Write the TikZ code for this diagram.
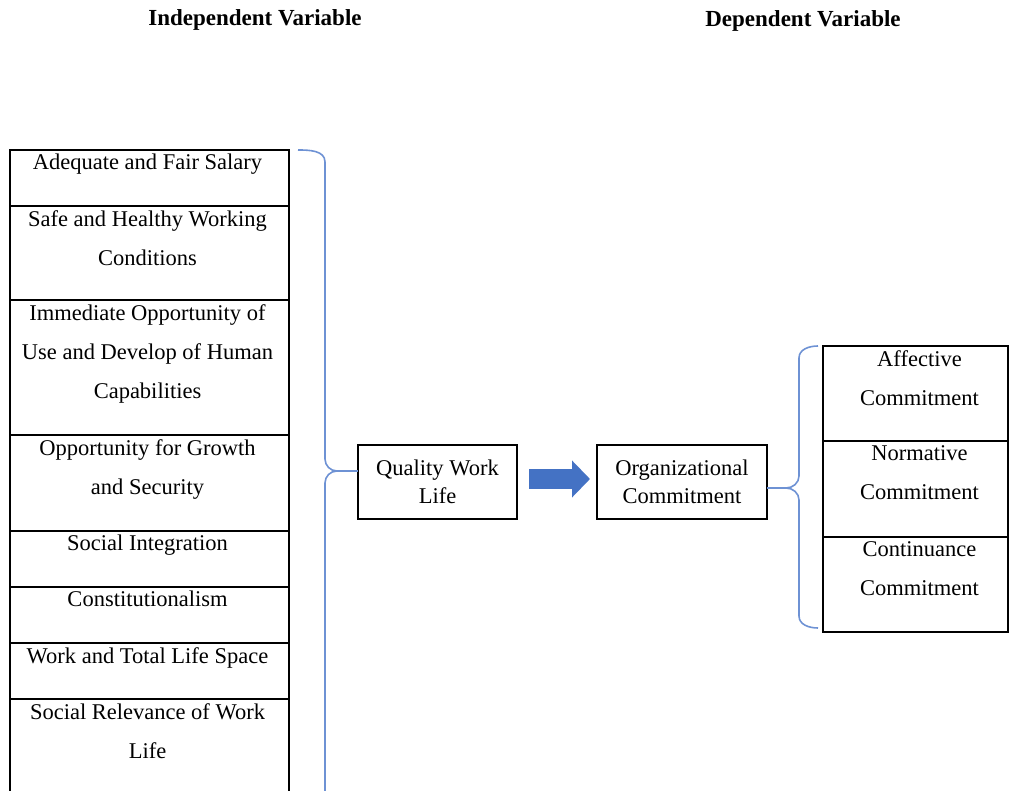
\documentclass[tikz,border=0pt]{standalone}
\usepackage{fontspec}
\setmainfont{Liberation Serif}
\usetikzlibrary{positioning,arrows.meta}
\definecolor{braceblue}{RGB}{110,146,212}
\definecolor{arrowblue}{RGB}{68,114,196}

\begin{document}
\begin{tikzpicture}[x=1pt,y=-1pt,
  cell/.style={draw,line width=1.2pt,minimum width=279,inner sep=0,outer sep=0},
  rcell/.style={draw,line width=1.2pt,minimum width=185,inner sep=0,outer sep=0},
  box/.style={draw,line width=1.2pt,minimum height=74,inner sep=0,outer sep=0,align=center,
    font=\fontsize{22.5}{28}\selectfont},
  txt/.style={align=center,inner sep=0,font=\fontsize{22.5}{39}\selectfont},
  title/.style={font=\fontsize{23}{26}\selectfont\bfseries},
  brace/.style={braceblue,line width=1.6pt},
  bigarrow/.style={arrowblue,line width=20pt,-{Triangle[length=18pt,width=36pt]}}]
\useasboundingbox (0,0) rectangle (1009,791);

\node (iv) [title] at (255,20) {Independent Variable};
\node (dv) [title] at (803,21) {Dependent Variable};

% independent variable column
\node (a1) [cell, minimum height=56, anchor=north west] at (10,150) {};
\node (a2) [cell, minimum height=94, below=0pt of a1] {};
\node (a3) [cell, minimum height=135, below=0pt of a2] {};
\node (a4) [cell, minimum height=96, below=0pt of a3] {};
\node (a5) [cell, minimum height=56, below=0pt of a4] {};
\node (a6) [cell, minimum height=56, below=0pt of a5] {};
\node (a7) [cell, minimum height=56, below=0pt of a6] {};
\node (a8) [cell, minimum height=101, below=0pt of a7] {};

\node (t1) [txt, below=4pt of a1.north, xshift=-2pt] {Adequate and Fair Salary};
\node (t2) [txt, below=4pt of a2.north, xshift=-2pt] {Safe and Healthy Working\\Conditions};
\node (t3) [txt, below=4pt of a3.north, xshift=-2pt] {Immediate Opportunity of\\Use and Develop of Human\\Capabilities};
\node (t4) [txt, below=4pt of a4.north, xshift=-2pt] {Opportunity for Growth\\and Security};
\node (t5) [txt, below=4pt of a5.north, xshift=-2pt] {Social Integration};
\node (t6) [txt, below=4pt of a6.north, xshift=-2pt] {Constitutionalism};
\node (t7) [txt, below=4pt of a7.north, xshift=-2pt] {Work and Total Life Space};
\node (t8) [txt, below=4pt of a8.north, xshift=-2pt] {Social Relevance of Work\\Life};

% middle
\node (q) [box, minimum width=159, anchor=north west] at (358,445) {Quality Work\\Life};
\node (o) [box, minimum width=170, anchor=north west] at (597,445) {Organizational\\Commitment};
\draw [bigarrow] ([shift={(12pt,3pt)}]q.east) -- ([shift={(-7pt,3pt)}]o.west);

% dependent variable column
\node (r1) [rcell, minimum height=95, anchor=north west] at (823,346) {};
\node (r2) [rcell, minimum height=96, below=0pt of r1] {};
\node (r3) [rcell, minimum height=95, below=0pt of r2] {};

\node (u1) [txt, below=4pt of r1.north, xshift=4pt] {Affective\\Commitment};
\node (u2) [txt, below=4pt of r2.north, xshift=4pt] {Normative\\Commitment};
\node (u3) [txt, below=4pt of r3.north, xshift=4pt] {Continuance\\Commitment};

% braces
\coordinate (lt) at (337,471);
\draw [brace] (298,150) to[out=0,in=90] (325,162) -- (325,459) to[out=-90,in=180] (lt)
  to[out=180,in=90] (325,483) -- (325,800);
\draw [brace] (lt) -- (lt -| q.west);

\coordinate (rt) at (786,488);
\draw [brace] (818,346) to[out=180,in=90] (799,358) -- (799,476) to[out=-90,in=0] (rt)
  to[out=0,in=90] (799,500) -- (799,616) to[out=-90,in=180] (818,628);
\draw [brace] (o.east |- rt) -- (rt);
\end{tikzpicture}
\end{document}
